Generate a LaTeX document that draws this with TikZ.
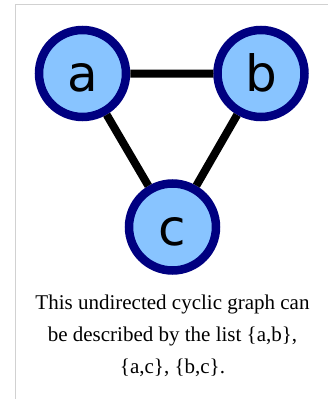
\documentclass[tikz,border=0pt]{standalone}
\usepackage{fontspec}
\setmainfont{Liberation Serif}
\newfontfamily\vertexfont{DejaVu Sans}
\definecolor{vertexfill}{HTML}{88C4FF}
\definecolor{vertexline}{HTML}{000080}

\begin{document}
\begin{tikzpicture}[x=1pt,y=-1pt,
  vertex/.style={circle,draw=vertexline,fill=vertexfill,line width=8.5pt,minimum size=87pt,inner sep=0pt,
    text height=36pt,text depth=0pt,font=\vertexfont\fontsize{50}{50}\selectfont}]
\useasboundingbox (0,0) rectangle (328,399);
\draw[black!18,line width=1pt] (15.5,410) -- (15.5,4.5) -- (340,4.5);
\node[vertex] (a) at (82.5,73.5) {a};
\node[vertex] (b) at (261,73.5) {b};
\node[vertex] (c) at (172.5,227) {c};
\draw[line width=8pt] (a)--(b) (a)--(c) (b)--(c);
\node[align=center,font=\fontsize{21}{32}\selectfont] (caption) at (172.5,336) {This undirected cyclic graph can\\be described by the list \{a,b\},\\\{a,c\}, \{b,c\}.};
\end{tikzpicture}
\end{document}
